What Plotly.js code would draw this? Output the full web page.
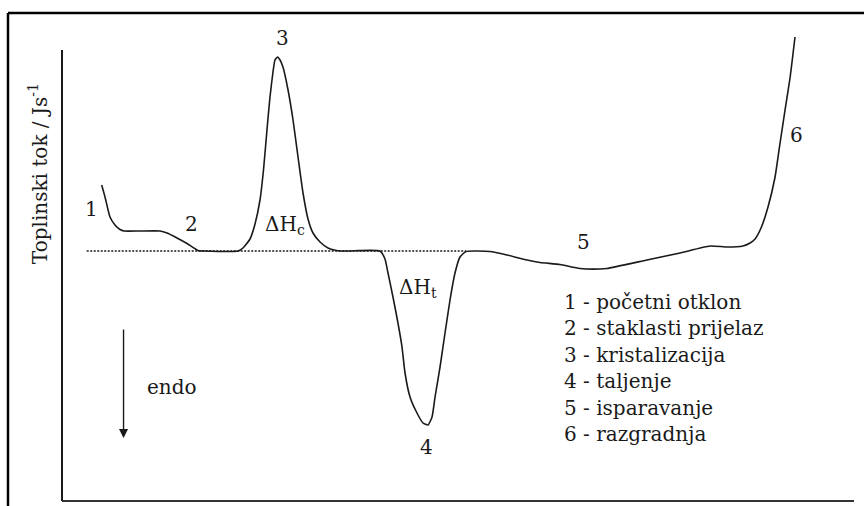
<!DOCTYPE html>
<html>
<head>
<meta charset="utf-8">
<script src="https://cdn.plot.ly/plotly-3.0.1.min.js"></script>
<style>
  html, body { margin: 0; padding: 0; background: #ffffff; }
  #chart { width: 864px; height: 506px; }
</style>
</head>
<body>
<div id="chart"></div>
<script>
// Schematic DSC curve (arbitrary units): temperature-like x, heat flow y (baseline = 0)
const temperature = [5.01, 5.43, 6.06, 6.69, 7.32, 7.83, 9.85, 12.37, 13.26, 14.52, 15.78, 17.17, 18.06,
  22.22, 22.85, 23.74, 24.37, 25.0, 25.44, 25.88, 26.26, 26.64, 26.89, 27.21, 27.53, 27.90, 28.54,
  29.17, 29.80, 30.43, 31.06, 31.69, 32.58, 33.59, 35.10, 40.15, 40.78, 41.16, 41.79, 42.42, 42.93,
  43.31, 43.94, 44.82, 45.58, 46.21, 46.72, 47.10, 47.73, 48.36, 48.99, 49.62, 50.25, 51.01, 54.04,
  56.19, 58.71, 60.35, 62.88, 65.40, 67.93, 68.81, 73.86, 78.03, 81.82, 83.96, 85.98, 86.87, 87.50,
  88.26, 89.14, 90.03, 90.66, 91.29, 91.92, 92.55];
const heatFlow = [26.4, 21.6, 13.6, 10.4, 8.6, 8.0, 8.0, 8.0, 7.2, 5.2, 3.0, 0.2, 0,
  0, 1.2, 4.8, 10.8, 20.4, 32.4, 48.4, 61.6, 71.6, 76.4, 77.6, 76.4, 73.6, 64.4,
  52.4, 37.6, 23.2, 12.8, 7.2, 3.6, 1.2, 0, 0, -3.2, -8.8, -18.4, -28.8, -38.4,
  -48.8, -58.4, -64.8, -68.8, -69.6, -66.4, -58.4, -46.4, -32.8, -19.6, -8.8, -2.4, -0.2, -0.2,
  -1.6, -3.6, -4.6, -5.4, -7.0, -7.2, -7.0, -3.6, -0.8, 2.0, 1.6, 2.0, 3.2, 4.8,
  9.2, 17.6, 29.6, 43.2, 56.4, 69.2, 85.6];

// Baseline (dotted) extent
const baselineX = [3.12, 51.0];
const baselineY = [0, 0];

// Point labels on the curve
const pointLabels = ["1", "2", "3", "4", "5", "6"];
const pointLabelX = [3.74, 16.41, 27.78, 46.02, 65.82, 92.68];
const pointLabelY = [16.8, 10.8, 85.2, -78.4, 3.7, 46.4];

// Enthalpy labels
const enthalpyLabels = ["ΔH<sub>c</sub>", "ΔH<sub>t</sub>"];
const enthalpyX = [28.16, 44.9];
const enthalpyY = [10.4, -14.8];

// Key text
const keyLines = ["1 - početni otklon", "2 - staklasti prijelaz", "3 - kristalizacija",
  "4 - taljenje", "5 - isparavanje", "6 - razgradnja"];
const keyX = 63.1;
const keyY = [-20.4, -30.8, -41.6, -52.0, -62.8, -73.2];

// Axis title
const yTitle = "Toplinski tok / Js<sup>-1</sup>";
const yTitleY = 30.8;

// Axis extents
const xMin = 0, xMax = 100, yMin = -100, yTop = 80.4;
// endo arrow
const endoX = 7.77, endoY0 = -30.8, endoY1 = -74.8;
const endoTextX = 13.89, endoTextY = -54.4;

const serif = "'DejaVu Serif', 'Liberation Serif', serif";
const ink = "#1a1a1a";
const fs = 20;

const traces = [
  {
    x: baselineX, y: baselineY, type: "scatter", mode: "lines",
    line: { color: ink, width: 1.5, dash: "2px,1.5px" }, hoverinfo: "skip", showlegend: false
  },
  {
    x: temperature, y: heatFlow, type: "scatter", mode: "lines",
    line: { color: ink, width: 1.6, shape: "spline", smoothing: 0.5 }, hoverinfo: "skip", showlegend: false
  }
];

const annotations = [];
pointLabels.forEach((t, i) => annotations.push({
  x: pointLabelX[i], y: pointLabelY[i], xref: "x", yref: "y", text: t, showarrow: false,
  font: { family: serif, size: fs, color: ink }
}));
enthalpyLabels.forEach((t, i) => annotations.push({
  x: enthalpyX[i], y: enthalpyY[i], xref: "x", yref: "y", text: t, showarrow: false,
  font: { family: serif, size: fs, color: ink }
}));
keyLines.forEach((t, i) => annotations.push({
  x: keyX, y: keyY[i], xref: "x", yref: "y", text: t, showarrow: false, xanchor: "left",
  font: { family: serif, size: fs, color: ink }
}));
annotations.push({
  x: endoTextX, y: endoTextY, xref: "x", yref: "y", text: "endo", showarrow: false,
  font: { family: serif, size: fs, color: ink }
});
annotations.push({
  x: endoX, y: endoY1, ax: endoX, ay: endoY0, xref: "x", yref: "y", axref: "x", ayref: "y",
  text: "", showarrow: true, arrowhead: 2, arrowsize: 1.3, arrowwidth: 1.4, arrowcolor: ink
});
// rotated y-axis title
annotations.push({
  x: -0.033, xref: "paper", y: yTitleY, yref: "y", text: yTitle, textangle: -90, showarrow: false,
  font: { family: serif, size: fs, color: ink }
});

const shapes = [
  // axis lines
  { type: "line", xref: "x", yref: "y", x0: xMin, x1: xMin, y0: yMin, y1: yTop, line: { color: ink, width: 2 } },
  { type: "line", xref: "x", yref: "y", x0: xMin, x1: xMax, y0: yMin, y1: yMin, line: { color: "#333", width: 2 } },
  // outer frame (left and top)
  { type: "line", xref: "paper", yref: "paper", x0: -0.0516, x1: -0.0516, y0: -0.05, y1: 1.0146, line: { color: "#000", width: 2.5 } },
  { type: "line", xref: "paper", yref: "paper", x0: -0.0516, x1: 1.05, y0: 1.0146, y1: 1.0146, line: { color: "#000", width: 2.5 } }
];

const layout = {
  width: 864, height: 506,
  margin: { l: 50, r: 0, t: 20, b: 0 },
  paper_bgcolor: "#ffffff", plot_bgcolor: "#ffffff",
  showlegend: false,
  font: { family: serif, color: ink },
  xaxis: {
    range: [-1.515, 101.26], showgrid: false, zeroline: false, showticklabels: false,
    ticks: "", showline: false, fixedrange: true
  },
  yaxis: {
    range: [-102, 92.4], showgrid: false, zeroline: false, showticklabels: false,
    ticks: "", showline: false, fixedrange: true
  },
  annotations: annotations,
  shapes: shapes
};

Plotly.newPlot("chart", traces, layout, { staticPlot: true, displayModeBar: false });
</script>
</body>
</html>
